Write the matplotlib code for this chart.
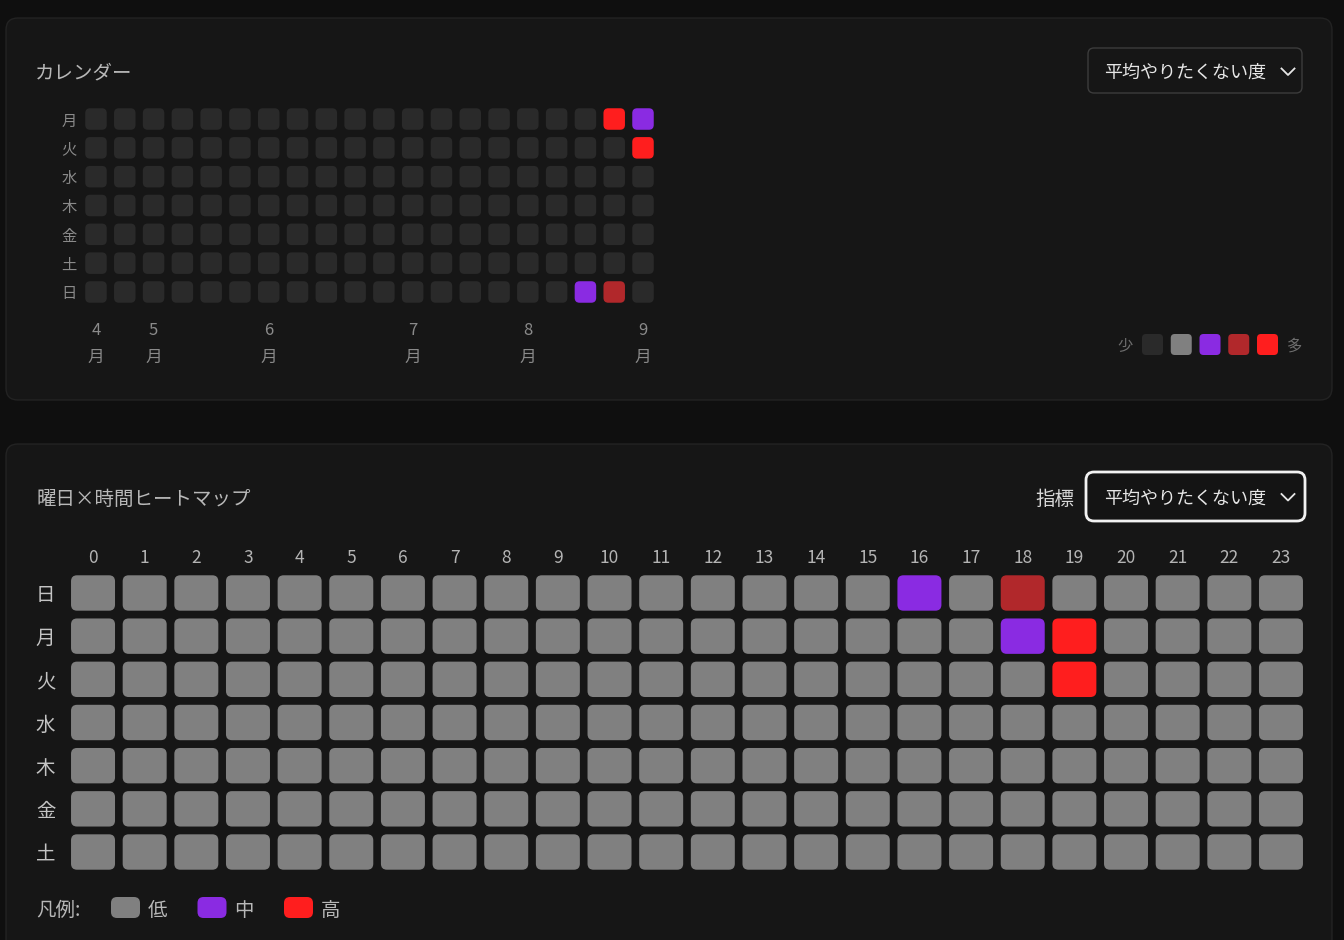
import matplotlib
matplotlib.use("Agg")
import matplotlib.pyplot as plt
from matplotlib.patches import FancyBboxPatch
import numpy as np

plt.rcParams['font.family'] = ['Noto Sans CJK JP', 'DejaVu Sans']

W, H = 1344, 940

# level colours: 0 none, 1 low, 2 mid, 3 high-ish, 4 high
level_colors = ['#2a2a2a', '#808080', '#8a2be2', '#b1282b', '#ff1e1e']

# calendar (rows = weekday, cols = week)
cal_days = ['月', '火', '水', '木', '金', '土', '日']
cal_weeks = 20
cal_month_pos = [0, 2, 6, 11, 15, 19]
cal_month_labels = ['4\n月', '5\n月', '6\n月', '7\n月', '8\n月', '9\n月']
cal_marks = [(0, 18, 4), (0, 19, 2), (1, 19, 4), (6, 17, 2), (6, 18, 3)]

# weekday x hour heatmap
heat_days = ['日', '月', '火', '水', '木', '金', '土']
heat_hours = [str(h) for h in range(24)]
heat_marks = [(0, 16, 2), (0, 18, 3), (1, 18, 2), (1, 19, 4), (2, 19, 4)]

cal = np.zeros((len(cal_days), cal_weeks), dtype=int)
for r, c, v in cal_marks:
    cal[r, c] = v
heat = np.ones((len(heat_days), len(heat_hours)), dtype=int)
for r, c, v in heat_marks:
    heat[r, c] = v

fig = plt.figure(figsize=(W / 100, H / 100), dpi=100)
fig.patch.set_facecolor('#0f0f0f')

bg = fig.add_axes([0, 0, 1, 1])
bg.set_xlim(0, W)
bg.set_ylim(H, 0)
bg.axis('off')


def px_axes(l, t, r, b):
    a = fig.add_axes([l / W, 1 - b / H, (r - l) / W, (b - t) / H])
    a.set_facecolor('none')
    for s in a.spines.values():
        s.set_visible(False)
    return a


def rbox(ax, x, y, w, h, r, fc, ec='none', lw=0, aspect=1, z=1):
    p = FancyBboxPatch((x, y), w, h, boxstyle=f'round,pad=0,rounding_size={r}',
                       fc=fc, ec=ec, lw=lw, mutation_aspect=aspect, zorder=z)
    ax.add_patch(p)
    return p


# panels
rbox(bg, 6, 18, 1326, 382, 12, '#161616', '#232323', 1)
rbox(bg, 6, 444, 1326, 540, 12, '#161616', '#232323', 1)

# titles
bg.text(35, 73, 'カレンダー', color='#b8b8b8', fontsize=14, va='center')
bg.text(36, 499, '曜日×時間ヒートマップ', color='#b8b8b8', fontsize=14, va='center')

# dropdowns
rbox(bg, 1088, 48, 214, 45, 6, '#161616', '#3c3c3c', 1, z=2)
bg.text(1104, 73, '平均やりたくない度', color='#e6e6e6', fontsize=13, va='center', zorder=3)
bg.plot([1281.5, 1288, 1294.5], [68.5, 75, 68.5], color='#e6e6e6', lw=1.3, zorder=3)

bg.text(1074, 499, '指標', color='#d8d8d8', fontsize=14, va='center', ha='right')
rbox(bg, 1086, 472, 219, 49, 8, '#141414', '#f2f2f2', 2, z=2)
bg.text(1104, 499, '平均やりたくない度', color='#e6e6e6', fontsize=13, va='center', zorder=3)
bg.plot([1281.5, 1288, 1294.5], [494, 500.5, 494], color='#e6e6e6', lw=1.3, zorder=3)

# calendar grid
cax = px_axes(81.6, 104.6, 657.4, 306.4)
cax.set_xlim(-0.5, cal_weeks - 0.5)
cax.set_ylim(len(cal_days) - 0.5, -0.5)
cw = 21.5 / 28.8
for r in range(len(cal_days)):
    for c in range(cal_weeks):
        rbox(cax, c - cw / 2, r - cw / 2, cw, cw, 0.17, level_colors[cal[r, c]])
cax.set_yticks(range(len(cal_days)), cal_days)
cax.set_xticks(cal_month_pos, cal_month_labels)
cax.tick_params(axis='y', length=0, pad=3.6, labelsize=11, labelcolor='#8a8a8a')
cax.tick_params(axis='x', length=0, pad=11.5, labelsize=12, labelcolor='#8a8a8a')
for t in cax.get_xticklabels():
    t.set_linespacing(1.75)

# calendar legend
bg.text(1125, 346, '少', color='#6e6e6e', fontsize=11, ha='center', va='center')
for i, col in enumerate(level_colors):
    cx = 1152.5 + i * 28.75
    rbox(bg, cx - 10.5, 334, 21, 21, 4, col)
bg.text(1295, 346, '多', color='#6e6e6e', fontsize=11, ha='center', va='center')

# heatmap grid
hax = px_axes(67.2, 571.4, 1306.8, 873.6)
hax.set_xlim(-0.5, len(heat_hours) - 0.5)
hax.set_ylim(len(heat_days) - 0.5, -0.5)
pxx, pxy = 51.65, 43.17
hw, hh = 44 / pxx, 35.4 / pxy
for r in range(len(heat_days)):
    for c in range(len(heat_hours)):
        rbox(hax, c - hw / 2, r - hh / 2, hw, hh, 6 / pxx, level_colors[heat[r, c]],
             aspect=pxx / pxy)
hax.xaxis.tick_top()
hax.set_xticks(range(len(heat_hours)), heat_hours)
hax.set_yticks(range(len(heat_days)), heat_days)
hax.tick_params(axis='x', length=0, pad=3, labelsize=12.5, labelcolor='#b4b4b4')
hax.tick_params(axis='y', length=0, pad=8.5, labelsize=14, labelcolor='#c4c4c4')

# heatmap legend
bg.text(36, 910, '凡例:', color='#b8b8b8', fontsize=14, va='center')
legend_items = [('低', 1), ('中', 2), ('高', 4)]
for i, (lab, lv) in enumerate(legend_items):
    x0 = 111 + i * 86.5
    rbox(bg, x0, 897, 29, 21, 6, level_colors[lv])
    bg.text(x0 + 37, 910, lab, color='#b8b8b8', fontsize=14, va='center')

fig.savefig('out.png', dpi=100, facecolor=fig.get_facecolor())
